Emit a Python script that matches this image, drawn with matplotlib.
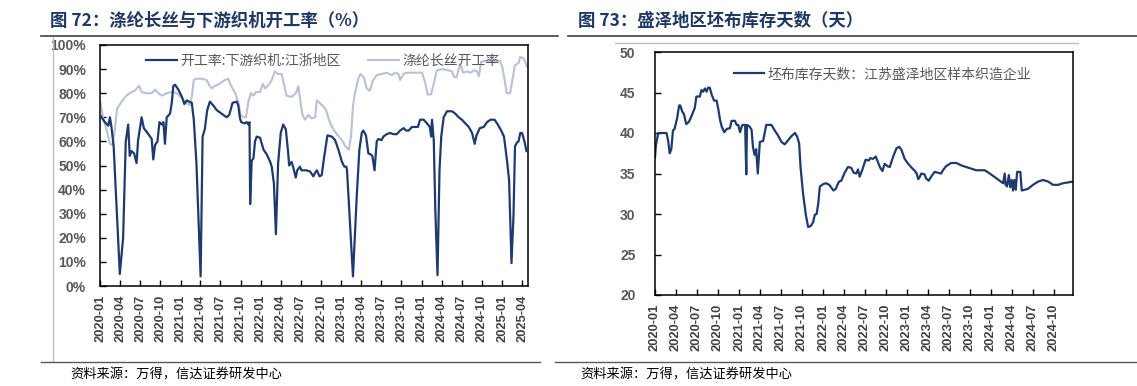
import matplotlib
matplotlib.use("Agg")
import matplotlib.pyplot as plt
from matplotlib.lines import Line2D
from matplotlib.ticker import FuncFormatter, MultipleLocator
import pandas as pd

# ---------------- Data: Figure 72 ----------------
loom_dates = ["2020-01-01","2020-01-23","2020-02-08","2020-02-15","2020-02-22","2020-03-03","2020-03-31","2020-04-15",
"2020-04-27","2020-05-08","2020-05-15","2020-05-23","2020-06-04","2020-06-15","2020-06-22","2020-07-08","2020-07-18",
"2020-08-08","2020-08-23","2020-08-30","2020-09-07","2020-09-18","2020-09-27","2020-10-08","2020-10-15","2020-10-22",
"2020-10-30","2020-11-14","2020-11-22","2020-11-29","2020-12-07","2020-12-22","2021-01-07","2021-01-18","2021-01-29",
"2021-02-21","2021-03-02","2021-03-14","2021-04-02","2021-04-11","2021-04-21","2021-05-02","2021-05-14","2021-05-29",
"2021-06-14","2021-06-29","2021-07-14","2021-07-29","2021-08-10","2021-08-25","2021-09-13","2021-09-20","2021-09-28",
"2021-10-03","2021-10-20","2021-10-28","2021-11-05","2021-11-10","2021-11-13","2021-11-20","2021-11-28","2021-12-05",
"2021-12-13","2021-12-28","2022-01-13","2022-01-28","2022-02-12","2022-02-19","2022-03-01","2022-03-10","2022-03-20",
"2022-04-01","2022-04-12","2022-04-24","2022-05-05","2022-05-09","2022-05-20","2022-05-27","2022-06-08","2022-06-15",
"2022-06-27","2022-07-04","2022-07-27","2022-08-12","2022-08-27","2022-09-04","2022-09-12","2022-09-24","2022-10-04",
"2022-10-15","2022-10-30","2022-11-19","2022-12-04","2022-12-19","2023-01-04","2023-01-15","2023-01-24","2023-01-27",
"2023-02-23","2023-03-12","2023-03-24","2023-04-04","2023-04-11","2023-04-23","2023-05-04","2023-05-11","2023-05-22",
"2023-06-01","2023-06-11","2023-06-18","2023-07-03","2023-07-11","2023-07-26","2023-08-11","2023-08-26","2023-09-10",
"2023-09-25","2023-10-11","2023-10-23","2023-11-03","2023-11-18","2023-12-03","2023-12-15","2023-12-25","2024-01-10",
"2024-01-25","2024-02-07","2024-02-13","2024-02-17","2024-02-25","2024-03-03","2024-03-13","2024-03-22","2024-03-30",
"2024-04-10","2024-04-25","2024-05-18","2024-06-02","2024-06-17","2024-07-02","2024-07-17","2024-08-02","2024-08-17",
"2024-08-29","2024-09-06","2024-09-21","2024-10-09","2024-10-24","2024-11-09","2024-11-27","2024-12-12","2024-12-27",
"2025-01-09","2025-01-24","2025-02-01","2025-02-12","2025-02-21","2025-02-28","2025-03-09","2025-03-16","2025-03-24",
"2025-04-01","2025-04-12","2025-04-21"]
loom_rate = [71,68,66.5,70,66,58,5,20,
60,67,54,56,55,51,60.5,70,65.5,
63,61,52.5,58.5,60,68,67,68,59,
70,71.5,76,83,83.5,81.5,78.5,75.5,77,
76,69,51,4,62,65,73,76.5,75,
73,72,71,70,71,76,76.5,75,69.5,
68,67.5,68,67,68,34,52,53,60,
62,61.5,56.5,54.5,51.5,49.5,42.5,21.5,51,
63.5,67,65,55,50,51.5,49.5,45,48,
49.5,48,48,47.5,45.5,47,48,45.5,46,
53.5,62.5,62,60.5,56.5,51.5,49.5,49.5,48,
4,37,56.5,63.5,64.5,62.5,55,54.8,54,
48,60,61,60.5,62,63,63.5,63,63,
64.5,65.5,64.5,64.5,66,66,66,69,69,
67.5,66,62,69,60.5,31.5,4.5,48,62,
70,72.5,72.5,71.5,70,69,67.5,66,63.5,
59,62.5,65.5,66,68,69,69,67,64.5,
62,51,44,9.5,29,58,59.5,60,63.5,
63.5,60,56]

poly_dates = ["2020-01-01","2020-01-16","2020-02-01","2020-02-15","2020-02-27","2020-03-08","2020-03-18","2020-04-08",
"2020-04-30","2020-05-23","2020-06-07","2020-06-15","2020-06-27","2020-07-08","2020-07-30","2020-08-23","2020-09-07",
"2020-09-22","2020-10-08","2020-10-30","2020-11-22","2020-12-15","2021-01-07","2021-01-22","2021-02-11","2021-02-21",
"2021-03-02","2021-03-14","2021-04-07","2021-04-29","2021-05-14","2021-05-22","2021-06-06","2021-06-29","2021-07-21",
"2021-08-06","2021-08-16","2021-09-06","2021-09-20","2021-10-01","2021-10-13","2021-10-25","2021-11-05","2021-11-16",
"2021-11-28","2021-12-10","2021-12-28","2022-01-10","2022-01-20","2022-02-05","2022-02-19","2022-03-05","2022-03-20",
"2022-04-05","2022-04-15","2022-04-27","2022-05-20","2022-06-09","2022-06-20","2022-06-30","2022-07-09","2022-07-20",
"2022-08-04","2022-08-20","2022-09-04","2022-09-12","2022-09-24","2022-10-12","2022-10-24","2022-11-04","2022-11-19",
"2022-12-12","2023-01-04","2023-01-19","2023-02-04","2023-02-14","2023-02-23","2023-03-04","2023-03-19","2023-03-29",
"2023-04-14","2023-04-26","2023-05-11","2023-05-23","2023-06-11","2023-07-03","2023-07-26","2023-08-18","2023-09-03",
"2023-09-18","2023-09-25","2023-10-11","2023-10-25","2023-11-18","2023-12-10","2024-01-03","2024-01-18","2024-01-28",
"2024-02-13","2024-02-25","2024-03-10","2024-04-02","2024-05-02","2024-05-18","2024-05-25","2024-06-07","2024-06-17",
"2024-06-28","2024-07-07","2024-07-25","2024-08-10","2024-08-25","2024-09-09","2024-09-17","2024-09-27","2024-10-17",
"2024-11-09","2024-12-01","2024-12-21","2025-01-01","2025-01-12","2025-01-21","2025-02-06","2025-02-16","2025-02-27",
"2025-03-16","2025-03-24","2025-04-09","2025-04-24"]
poly_rate = [77,69.5,64.5,59,58.5,64.5,73.5,76.5,
79,80.5,81,82,83,80.5,80,80,81.5,
80,79,80,80.5,80,78,76.5,75,78.5,
85.5,86,86,85.5,83,82,83,84,85.5,
86,83.5,80,76.5,71,70,70,76.5,80,
79,80.5,80.5,84,82,83.5,85.5,89,88,
88,84,79,78.5,80,83,76,71,69,
71,69.5,70,77,76,74.5,73,69.5,66,
63,60.5,58,56.5,62,74.5,80,86,88,
86.5,82,81,85,87.5,88,88.5,87.5,88.5,
88,85.5,88,88.5,88.5,88.5,88.5,84,79.5,
79.5,84,89.5,90,89.5,89,87,86.5,90,
91.5,88.5,89,88.5,89.5,89,87,93,93.5,
93,93.5,93.5,91,85.5,80,80,85.5,91.5,
92.5,95,94.5,91]

left_labels = ["开工率:下游织机:江浙地区", "涤纶长丝开工率"]
left_title = "图 72：涤纶长丝与下游织机开工率（%）"

# ---------------- Data: Figure 73 ----------------
inv_dates = ["2020-01-01","2020-01-05","2020-01-15","2020-02-20","2020-02-27","2020-03-05","2020-03-12","2020-03-19",
"2020-03-26","2020-04-06","2020-04-15","2020-04-20","2020-04-29","2020-05-05","2020-05-16","2020-05-28","2020-06-08",
"2020-06-22","2020-06-29","2020-07-14","2020-07-21","2020-07-28","2020-08-05","2020-08-12","2020-08-19","2020-08-26",
"2020-09-04","2020-09-14","2020-09-25","2020-10-02","2020-10-10","2020-10-17","2020-10-28","2020-11-08","2020-11-22",
"2020-11-29","2020-12-14","2020-12-21","2020-12-28","2021-01-05","2021-01-12","2021-01-16","2021-01-27","2021-02-01",
"2021-02-04","2021-02-15","2021-02-24","2021-03-02","2021-03-09","2021-03-16","2021-03-23","2021-04-01","2021-04-15",
"2021-04-29","2021-05-21","2021-06-05","2021-06-19","2021-07-04","2021-07-18","2021-08-02","2021-08-16","2021-09-01",
"2021-09-11","2021-09-19","2021-09-25","2021-10-06","2021-10-18","2021-10-28","2021-11-08","2021-11-19","2021-11-26",
"2021-12-04","2021-12-11","2021-12-18","2022-01-02","2022-01-14","2022-01-28","2022-02-15","2022-02-25","2022-03-11",
"2022-03-21","2022-04-05","2022-04-19","2022-05-04","2022-05-14","2022-05-25","2022-06-02","2022-06-09","2022-06-20",
"2022-07-05","2022-07-19","2022-07-25","2022-08-06","2022-08-18","2022-08-25","2022-09-05","2022-09-16","2022-09-26",
"2022-10-08","2022-10-18","2022-11-02","2022-11-16","2022-11-28","2022-12-08","2022-12-22","2023-01-06","2023-01-25",
"2023-02-05","2023-02-12","2023-02-19","2023-02-26","2023-03-04","2023-03-18","2023-03-25","2023-04-05","2023-04-16",
"2023-05-01","2023-05-15","2023-05-29","2023-06-09","2023-06-20","2023-07-12","2023-08-04","2023-08-25","2023-09-16",
"2023-10-08","2023-10-29","2023-12-05","2023-12-27","2024-01-25","2024-02-23","2024-03-01","2024-03-05","2024-03-11",
"2024-03-19","2024-03-25","2024-04-01","2024-04-06","2024-04-12","2024-04-18","2024-04-24","2024-05-08","2024-05-14",
"2024-05-27","2024-06-10","2024-07-02","2024-07-24","2024-08-15","2024-09-06","2024-09-27","2024-10-19","2024-11-10",
"2024-12-02","2024-12-23"]
inv_days = [37,38.5,40,40,39.1,37.5,38,40.3,
40.5,41.8,43.4,43.4,42.6,42.4,41.1,41.4,42.1,
43.1,44.5,44.5,45.3,45.1,45.5,45.1,45.6,45.6,
44.7,44,44,43,41.6,40.8,40.1,40.5,40.6,
41.5,41.5,41,41,40.1,40.8,41,41,34.9,
41,40.8,40.4,38.3,37.3,38,35,38.9,39,
41,41,40.3,39.7,38.9,38.6,39.1,39.6,40,
39.5,38.7,35.8,32.5,29.9,28.4,28.5,29,29.9,
30,31.3,33.4,33.7,33.8,33.6,32.9,33.1,34,
34.1,35.1,35.8,35.7,35.1,35,35.5,34.6,35.4,
36.7,36.6,36.9,36.8,37.1,36.6,35.8,35.3,36.2,
35.9,35.8,37.1,38.1,38.3,37.9,36.8,36.2,35.6,
35.3,35,34.3,34.6,35,34.9,34.4,34.1,34.6,
35.2,35.1,35,35.5,35.9,36.3,36.3,36,35.8,
35.6,35.4,35.4,35,34.4,33.8,35,33.6,33.4,
34.8,33.3,34.2,32.9,34.2,33,35.2,35.2,32.9,
33,33.1,33.6,34,34.2,34,33.6,33.6,33.8,
33.9,34]

right_label = "坯布库存天数：江苏盛泽地区样本织造企业"
right_title = "图 73：盛泽地区坯布库存天数（天）"
source_text = "资料来源：万得，信达证券研发中心"

# ---------------- Styling ----------------
NAVY = "#1F3A6E"
LIGHT = "#B8C2D4"
TITLE_C = "#1F3864"
LABEL_C = "#595959"
CJK = ["Noto Sans CJK SC", "DejaVu Sans"]
NUM = ["Liberation Sans", "DejaVu Sans"]

W, H = 1137, 386
fig = plt.figure(figsize=(W / 100, H / 100), dpi=100)


def fx(px):
    return px / W


def fy(py):
    return 1 - py / H


def hline(x0, x1, y, color, lw):
    fig.add_artist(Line2D([fx(x0), fx(x1)], [fy(y), fy(y)], color=color, lw=lw,
                          transform=fig.transFigure))


def vline(x, y0, y1, color, lw):
    fig.add_artist(Line2D([fx(x), fx(x)], [fy(y0), fy(y1)], color=color, lw=lw,
                          transform=fig.transFigure))


def style_axes(ax, xmax, last_tick, ypad):
    for s in ax.spines.values():
        s.set_linewidth(1.1)
        s.set_color("black")
    ax.tick_params(axis="both", direction="in", length=4, width=1, color="black")
    ticks = pd.date_range("2020-01-01", last_tick, freq="QS")
    ax.set_xticks(ticks)
    ax.set_xticklabels([t.strftime("%Y-%m") for t in ticks], rotation=90,
                       fontfamily=NUM, fontweight="bold", fontsize=9.3, color="#404040")
    ax.set_xlim(pd.Timestamp("2020-01-01"), pd.Timestamp(xmax))
    for lab in ax.get_yticklabels():
        lab.set_fontfamily(NUM)
        lab.set_fontweight("bold")
        lab.set_fontsize(10)
        lab.set_color(LABEL_C)
    ax.tick_params(axis="y", pad=ypad)
    ax.tick_params(axis="x", pad=6)


# ---------------- Left chart ----------------
axL = fig.add_axes([fx(100), fy(286), fx(528) - fx(100), fy(45) - fy(286)])
axL.plot(pd.to_datetime(poly_dates), poly_rate, color=LIGHT, lw=1.5, label=left_labels[1], zorder=2)
axL.plot(pd.to_datetime(loom_dates), loom_rate, color=NAVY, lw=1.6, label=left_labels[0], zorder=3)
axL.set_ylim(0, 100)
axL.yaxis.set_major_locator(MultipleLocator(10))
axL.yaxis.set_major_formatter(FuncFormatter(lambda v, p: f"{v:.0f}%"))
style_axes(axL, "2025-04-28", "2025-04-01", 10)
hL, lL = axL.get_legend_handles_labels()
legL = axL.legend([hL[1], hL[0]], [lL[1], lL[0]], ncol=2, loc="upper left",
                  bbox_to_anchor=(0.095, 0.985), frameon=False, handlelength=2.2,
                  handletextpad=0.25, columnspacing=2.0, borderaxespad=0,
                  prop={"family": CJK, "size": 10})
for t in legL.get_texts():
    t.set_color(LABEL_C)

# ---------------- Right chart ----------------
axR = fig.add_axes([fx(655), fy(295), fx(1073) - fx(655), fy(52) - fy(295)])
axR.plot(pd.to_datetime(inv_dates), inv_days, color=NAVY, lw=1.6, label=right_label)
axR.set_ylim(20, 50)
axR.yaxis.set_major_locator(MultipleLocator(5))
axR.yaxis.set_major_formatter(FuncFormatter(lambda v, p: f"{v:.0f}"))
style_axes(axR, "2024-12-23", "2024-10-01", 14)
legR = axR.legend(loc="upper left", bbox_to_anchor=(0.175, 0.96), frameon=False,
                  handlelength=2.2, handletextpad=0.25, borderaxespad=0,
                  prop={"family": CJK, "size": 10})
for t in legR.get_texts():
    t.set_color(LABEL_C)

# ---------------- Titles, rules and source ----------------
fig.text(fx(50), fy(21), left_title, fontfamily=CJK, fontweight="bold", fontsize=12.5,
         color=TITLE_C, va="center", ha="left")
fig.text(fx(578), fy(21), right_title, fontfamily=CJK, fontweight="bold", fontsize=12.5,
         color=TITLE_C, va="center", ha="left")
hline(41, 558, 36, "#404040", 1.2)
hline(568, 1137, 36, "#404040", 1.2)
hline(615, 1078, 43, "#BFBFBF", 1.0)
vline(53, 37, 362, "#BFBFBF", 1.0)
hline(41, 540, 362, "#595959", 1.0)
hline(555, 1137, 362, "#595959", 1.0)
fig.text(fx(70), fy(375), source_text, fontfamily=CJK, fontsize=9.5, color="black",
         va="center", ha="left", fontstyle="italic")
fig.text(fx(580), fy(375), source_text, fontfamily=CJK, fontsize=9.5, color="black",
         va="center", ha="left", fontstyle="italic")

fig.savefig("out.png", dpi=100)
